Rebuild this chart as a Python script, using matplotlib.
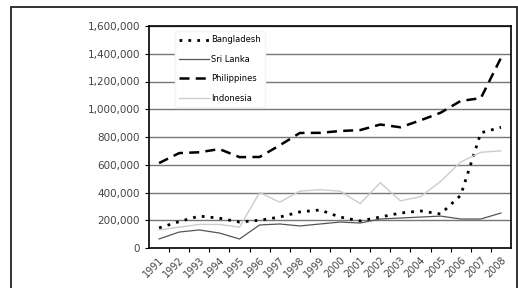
import matplotlib
matplotlib.use('Agg')
import matplotlib.pyplot as plt
from matplotlib.patches import Rectangle
from matplotlib.ticker import FuncFormatter

# migrant worker outflows
years = list(range(1991, 2009))
bangladesh = [145000, 190000, 230000, 215000, 187000, 200000, 223000, 260000, 274000,
              223000, 195000, 223000, 252000, 267000, 245000, 380000, 830000, 870000]
sri_lanka = [65000, 115000, 130000, 108000, 65000, 166000, 173000, 159000, 173000,
             187000, 180000, 209000, 216000, 223000, 230000, 209000, 209000, 252000]
philippines = [612000, 684000, 690000, 713000, 655000, 656000, 740000, 829000, 830000,
               843000, 850000, 890000, 870000, 920000, 975000, 1060000, 1080000, 1370000]
indonesia = [130000, 150000, 170000, 170000, 150000, 400000, 330000, 410000, 420000,
             410000, 320000, 470000, 340000, 370000, 480000, 620000, 690000, 700000]

fig = plt.figure(figsize=(5.18, 2.88), dpi=100)
fig.patch.set_facecolor('white')

# outer chart frame
fig.patches.append(Rectangle((11/518, -0.1), (517-11)/518, 1.1 - 7/288,
                             transform=fig.transFigure, fill=False,
                             edgecolor='#222222', linewidth=1.3))

ax = fig.add_axes([149/518, 40/288, 362/518, 222/288])
x = list(range(len(years)))

ax.plot(x, bangladesh, color='black', linestyle=(0, (1, 2.2)), linewidth=2.0, label='Bangladesh')
ax.plot(x, sri_lanka, color='#555555', linestyle='-', linewidth=0.9, label='Sri Lanka')
ax.plot(x, philippines, color='black', linestyle=(0, (4, 2.5)), linewidth=1.8, label='Philippines')
ax.plot(x, indonesia, color='#cccccc', linestyle='-', linewidth=1.0, label='Indonesia')

ax.set_xlim(-0.5, len(years) - 0.5)
ax.set_ylim(0, 1600000)
ax.set_yticks(range(0, 1600001, 200000))
ax.yaxis.set_major_formatter(FuncFormatter(lambda v, p: '{:,.0f}'.format(v)))
ax.grid(axis='y', color='#777777', linewidth=1.0)
ax.set_axisbelow(True)

ax.set_xticks(x)
ax.set_xticklabels([str(y) for y in years], rotation=45, ha='right', rotation_mode='anchor')
ax.set_xticks([i + 0.5 for i in x[:-1]], minor=True)
ax.tick_params(axis='x', which='major', length=0, labelsize=7, pad=5)
ax.tick_params(axis='x', which='minor', length=3, width=0.8)
ax.tick_params(axis='y', labelsize=7.5, length=3, width=0.8, labelcolor='#444444')
ax.tick_params(axis='x', labelcolor='#444444')

for s in ax.spines.values():
    s.set_color('black')
    s.set_linewidth(1.2)

leg = ax.legend(loc='upper left', bbox_to_anchor=(0.06, 0.995), fontsize=6,
                frameon=True, handlelength=3.6, labelspacing=1.25, borderpad=0.5,
                handletextpad=0.2)
leg.get_frame().set_edgecolor('#f4f4f4')
leg.get_frame().set_facecolor('white')
leg.get_frame().set_alpha(1)

plt.savefig('out.png', dpi=100)
